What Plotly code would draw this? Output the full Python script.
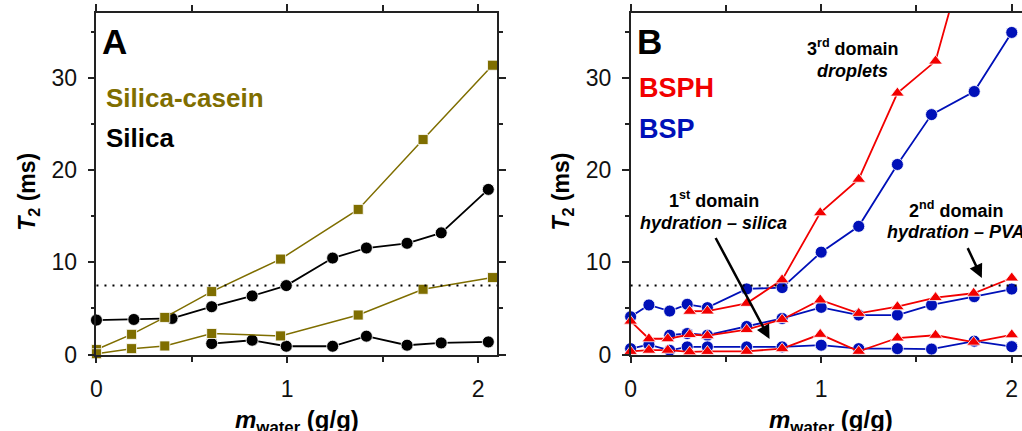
import plotly.graph_objects as go

# ---------------- Panel A data ----------------
sc_x = [0.0, 0.184, 0.358, 0.604, 0.965, 1.372, 1.712, 2.076]
sc_upper = [0.55, 2.2, 4.03, 6.83, 10.35, 15.73, 23.3, 31.35]
sc_lower = [0.1, 0.65, 0.94, 2.29, 2.03, 4.29, 7.08, 8.35]

si_x = [0.0, 0.196, 0.396, 0.604, 0.816, 0.995, 1.238, 1.415, 1.628, 1.807, 2.054]
si_upper = [3.74, 3.81, 3.92, 5.19, 6.36, 7.48, 10.46, 11.55, 12.06, 13.19, 17.9]
si_low_x = [0.604, 0.816, 0.995, 1.238, 1.415, 1.628, 1.807, 2.054]
si_lower = [1.2, 1.56, 0.91, 0.91, 2.0, 1.02, 1.27, 1.38]

# ---------------- Panel B data ----------------
bsp_x = [0.0, 0.096, 0.205, 0.297, 0.403, 0.609, 0.795, 1.0, 1.197, 1.4, 1.579, 1.803, 2.0]
bsp_top = [4.1, 5.38, 4.72, 5.45, 5.09, 7.12, 7.26, 11.1, 13.9, 20.6, 26.0, 28.5, 34.9]
bsp_bottom = [0.65, 1.09, 0.47, 0.84, 0.84, 0.84, 0.84, 1.02, 0.65, 0.65, 0.6, 1.46, 0.87]
bsp_mid_x = [0.205, 0.297, 0.403, 0.609, 0.795, 1.0, 1.197, 1.4, 1.579, 1.803, 2.0]
bsp_mid = [2.11, 2.29, 2.11, 3.05, 3.92, 5.12, 4.29, 4.29, 5.38, 6.28, 7.1]

bsph_x = [0.0, 0.096, 0.195, 0.31, 0.403, 0.609, 0.795, 0.995, 1.197, 1.4, 1.6, 1.8, 2.0]
bsph_mid = [3.63, 1.72, 1.72, 2.18, 2.05, 2.72, 3.81, 5.92, 4.47, 5.19, 6.18, 6.65, 8.3]
bsph_bottom = [0.35, 0.48, 0.48, 0.3, 0.35, 0.36, 0.65, 2.2, 0.36, 1.8, 2.1, 1.35, 2.15]
bsph_top_x = [0.31, 0.403, 0.609, 0.795, 0.995, 1.197, 1.4, 1.6, 1.8]
bsph_top = [4.7, 4.72, 5.56, 8.1, 15.37, 19.0, 28.33, 31.8, 46.6]

threshold = 7.5

OLIVE = "#7f6e00"
BLACK = "#000000"
RED = "#f20000"
BLUE = "#0010b8"
FONT = "Arial, Liberation Sans, sans-serif"

fig = go.Figure()


def add_series(x, y, color, symbol, size, xa, ya, lw=1.8):
    fig.add_trace(go.Scatter(
        x=x, y=y, mode="lines+markers", xaxis=xa, yaxis=ya,
        line=dict(color=color, width=lw),
        marker=dict(color=color, symbol=symbol, size=size,
                    line=dict(color="white", width=0.8)),
        cliponaxis=False, showlegend=False, hoverinfo="skip"))


# Panel A
add_series(si_x, si_upper, BLACK, "circle", 12, "x", "y", 1.8)
add_series(si_low_x, si_lower, BLACK, "circle", 12, "x", "y", 1.8)
add_series(sc_x, sc_upper, OLIVE, "square", 10, "x", "y", 1.5)
add_series(sc_x, sc_lower, OLIVE, "square", 10, "x", "y", 1.5)

# Panel B
add_series(bsp_x, bsp_top, BLUE, "circle", 12, "x2", "y2")
add_series(bsp_mid_x, bsp_mid, BLUE, "circle", 12, "x2", "y2")
add_series(bsp_x, bsp_bottom, BLUE, "circle", 12, "x2", "y2")
add_series(bsph_top_x, bsph_top, RED, "triangle-up", 12, "x2", "y2")
add_series(bsph_x, bsph_mid, RED, "triangle-up", 12, "x2", "y2")
add_series(bsph_x, bsph_bottom, RED, "triangle-up", 12, "x2", "y2")

W, H = 1022, 431          # reference frame (pixel positions)
H_FIG = 446               # figure height (compensates for vertical squeeze of capture)
yb, yt = 353, 13
ydom = [(H - yb) / H, (H - yt) / H]

common_x = dict(
    dtick=1, tick0=0, ticks="outside", ticklen=7, tickwidth=1.5, tickcolor="#222",
    showline=True, linewidth=1.5, linecolor="#222", showgrid=False, zeroline=False,
    tickfont=dict(family=FONT, size=23, color="#111"),
    minor=dict(dtick=0.5, tick0=0, ticks="outside", ticklen=6, tickwidth=1.5, tickcolor="#222"),
    ticklabelstandoff=6,
)
common_y = dict(
    dtick=10, tick0=0, ticks="outside", ticklen=7, tickwidth=1.5, tickcolor="#222",
    showline=True, linewidth=1.5, linecolor="#222", showgrid=False, zeroline=False,
    tickfont=dict(family=FONT, size=23, color="#111"),
    minor=dict(dtick=5, tick0=0, ticks="outside", ticklen=4, tickwidth=1.5, tickcolor="#222"),
    range=[0, 37], domain=ydom, ticklabelstandoff=6,
)

xa = dict(common_x); xa.update(domain=[91 / W, 494 / W], range=[0, 2.1], anchor="y", mirror="ticks")
xb = dict(common_x); xb.update(domain=[628.3 / W, 1.0], range=[0, (W - 628.3) / 191.7], anchor="y2", mirror="ticks")
ya = dict(common_y); ya.update(anchor="x", mirror="ticks")
yb2 = dict(common_y); yb2.update(anchor="x2", mirror=False)

shapes = [
    dict(type="line", xref="x domain", yref="y", x0=0, x1=1, y0=threshold, y1=threshold,
         line=dict(color="black", width=2, dash="2px,6px")),
    dict(type="line", xref="x2 domain", yref="y2", x0=0, x1=1, y0=threshold, y1=threshold,
         line=dict(color="black", width=2, dash="2px,6px")),
]


def px_x(p):
    return p / W


def px_y(p):
    return 1 - p / H


ann = []


def text(x, y, t, size, color="black", xanchor="left", yanchor="middle"):
    ann.append(dict(x=px_x(x), y=px_y(y), xref="paper", yref="paper", text=t,
                    showarrow=False, xanchor=xanchor, yanchor=yanchor,
                    font=dict(family=FONT, size=size, color=color)))


# panel labels
text(95, 41, "<b>A</b>", 35)
text(633, 41, "<b>B</b>", 35)
# panel A legend text
text(99, 98, "<b>Silica-casein</b>", 26, OLIVE)
text(99, 137, "<b>Silica</b>", 26, BLACK)
# panel B legend text
text(635, 88, "<b>BSPH</b>", 27, RED)
text(635, 128, "<b>BSP</b>", 27, BLUE)
# domain annotations
text(852, 47, "<b>3<sup>rd</sup> domain</b>", 18, xanchor="center")
text(852, 71, "<b><i>droplets</i></b>", 18, xanchor="center")
text(712, 199, "<b>1<sup>st</sup> domain</b>", 18, xanchor="center")
text(712, 222, "<b><i>hydration – silica</i></b>", 18, xanchor="center")
text(956, 209, "<b>2<sup>nd</sup> domain</b>", 18, xanchor="center")
text(956, 231, "<b><i>hydration – PVA</i></b>", 18, xanchor="center")

# axis titles
for cx in (23, 560):
    ann.append(dict(x=px_x(cx), y=px_y(191), xref="paper", yref="paper",
                    text="<b><i>T</i><sub>2</sub> (ms)</b>", textangle=-90, showarrow=False,
                    xanchor="center", yanchor="middle",
                    font=dict(family=FONT, size=23, color="black")))
for cx in (292.5, 830):
    ann.append(dict(x=px_x(cx), y=px_y(420), xref="paper", yref="paper",
                    text="<b><i>m</i><sub>water</sub> (g/g)</b>", showarrow=False,
                    xanchor="center", yanchor="middle",
                    font=dict(family=FONT, size=24, color="black")))

# arrows
ann.append(dict(x=0.729, y=1.7, ax=0.442, ay=12.8, xref="x2", yref="y2", axref="x2", ayref="y2",
                text="", showarrow=True, arrowhead=2, arrowsize=1.1, arrowwidth=2.5, arrowcolor="black"))
ann.append(dict(x=1.843, y=8.3, ax=1.765, ay=11.7, xref="x2", yref="y2", axref="x2", ayref="y2",
                text="", showarrow=True, arrowhead=2, arrowsize=1.1, arrowwidth=2.5, arrowcolor="black"))

fig.update_layout(
    width=W, height=H_FIG, margin=dict(l=0, r=0, t=0, b=0, pad=0),
    paper_bgcolor="white", plot_bgcolor="white",
    xaxis=xa, yaxis=ya, xaxis2=xb, yaxis2=yb2,
    shapes=shapes, annotations=ann, showlegend=False,
)

fig.write_html(
    "out.html",
    config={"responsive": False, "displayModeBar": False},
    post_script="document.body.style.margin='0';document.body.style.padding='0';"
                "document.body.style.overflow='hidden';",
)
